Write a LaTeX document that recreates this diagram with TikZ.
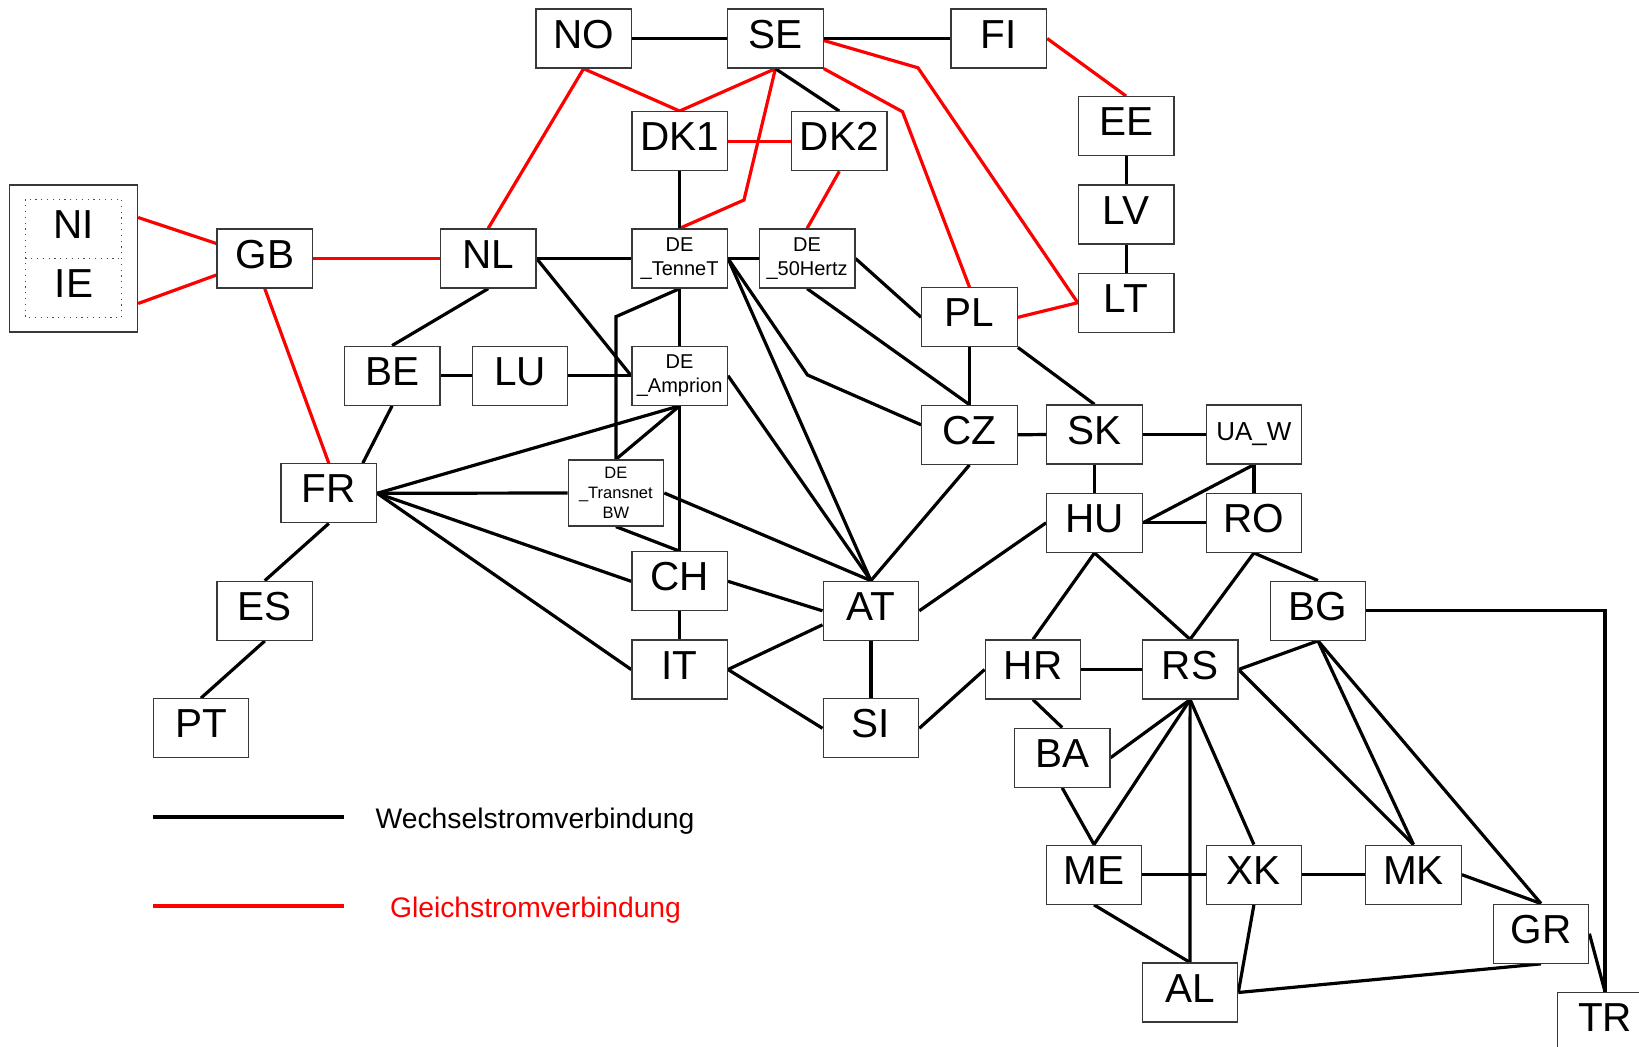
\documentclass[tikz,border=0pt]{standalone}
\usepackage{fontspec}
\setmainfont{Liberation Sans}
\usetikzlibrary{calc}
\pgfdeclarelayer{bgfill}
\pgfdeclarelayer{edges}
\pgfsetlayers{bgfill,edges,main}
\tikzset{
  boxbase/.style={draw=black!78, line width=1.3pt, fill=white, minimum width=95.5pt, minimum height=59pt, inner sep=0pt},
  box/.style={boxbase, font=\fontsize{40.5}{48}\selectfont, text height=29pt, text depth=10pt},
  debox/.style={boxbase, font=\fontsize{20}{24.5}\selectfont, align=center},
  bwbox/.style={boxbase, minimum height=66pt, font=\fontsize{16.5}{20}\selectfont, align=center},
  uabox/.style={boxbase, font=\fontsize{26}{30}\selectfont, text height=18.6pt, text depth=6.4pt},
  bigtext/.style={inner sep=0pt, font=\fontsize{40.5}{48}\selectfont, text height=29pt, text depth=10pt},
  ac/.style={line width=3.2pt, black},
  dc/.style={line width=3.2pt, red},
  legtext/.style={inner sep=0pt, anchor=base, font=\fontsize{28.3}{32}\selectfont}
}
\begin{document}
\begin{tikzpicture}[x=1pt, y=-1pt]
\useasboundingbox (0,0) rectangle (1639,1047);
\begin{pgfonlayer}{bgfill}
\fill[white] (0,0) rectangle (1639,1047);
\end{pgfonlayer}

% ---- NI / IE group
\node[draw=black!78, line width=1.3pt, fill=white, minimum width=128.2pt, minimum height=147pt, inner sep=0pt] (NIIE) at (73.4,258.5) {};
\draw[black!70, line width=1.2pt, dash pattern=on 1.2pt off 4.6pt] (25.4,199.3) rectangle (121.8,317.3);
\draw[black!70, line width=1.2pt, dash pattern=on 1.2pt off 4.6pt] (25.4,258.3) -- (121.8,258.3);
\node[bigtext] (NI) at (74,229.2) {NI};
\node[bigtext] (IE) at (74,287.7) {IE};

% ---- boxes
\node[box] (NO) at (583.6,38.5) {NO};
\node[box] (SE) at (775.4,38.5) {SE};
\node[box] (FI) at (998.8,38.5) {FI};
\node[box] (DK1) at (679.6,141.2) {DK1};
\node[box] (DK2) at (839.3,141.2) {DK2};
\node[box] (EE) at (1126.1,126.2) {EE};
\node[box] (LV) at (1126.1,214.5) {LV};
\node[box] (LT) at (1126.1,302.7) {LT};
\node[box] (GB) at (264.8,258.5) {GB};
\node[box] (NL) at (488.2,258.5) {NL};
\node[debox] (TT) at (679.6,258.5) {DE\\\_TenneT};
\node[debox] (HZ) at (807.1,258.5) {DE\\\_50Hertz};
\node[box] (PL) at (969.5,317.3) {PL};
\node[box] (BE) at (392.1,375.7) {BE};
\node[box] (LU) at (520,375.7) {LU};
\node[debox] (AM) at (679.6,375.7) {DE\\\_Amprion};
\node[box] (CZ) at (969.5,434.8) {CZ};
\node[box] (SK) at (1094.5,434.5) {SK};
\node[uabox] (UA) at (1253.9,434.5) {UA\_W};
\node[box] (FR) at (328.8,493.3) {FR};
\node[bwbox] (BW) at (615.9,493) {DE\\\_Transnet\\BW};
\node[box] (HU) at (1094.5,522.8) {HU};
\node[box] (RO) at (1253.9,522.8) {RO};
\node[box] (CH) at (679.6,581.3) {CH};
\node[box] (AT) at (870.9,610.8) {AT};
\node[box] (ES) at (264.8,610.8) {ES};
\node[box] (BG) at (1318,610.7) {BG};
\node[box] (IT) at (679.6,669.5) {IT};
\node[box] (HR) at (1033,669.5) {HR};
\node[box] (RS) at (1190.1,669.5) {RS};
\node[box] (PT) at (200.9,728.3) {PT};
\node[box] (SI) at (870.9,728.3) {SI};
\node[box] (BA) at (1062.2,757.7) {BA};
\node[box] (ME) at (1094,874.7) {ME};
\node[box] (XK) at (1253.9,874.7) {XK};
\node[box] (MK) at (1413.5,874.7) {MK};
\node[box] (GR) at (1541,933.7) {GR};
\node[box] (AL) at (1189.9,992.5) {AL};
\node[box] (TR) at (1605,1021.8) {TR};

% ---- waypoints
\coordinate (wSE1) at (744,200);
\coordinate (wSE2) at (918,67.8);
\coordinate (wSE3) at (902.5,111.7);
\coordinate (wTT1) at (615.9,316.7);
\coordinate (wTT2) at (807.5,375);

% ---- legend
\coordinate (acA) at (153,816.7);
\coordinate (acB) at (344,816.7);
\coordinate (dcA) at (153,905.7);
\coordinate (dcB) at (344,905.7);
\draw[black, line width=4pt] (acA) -- (acB);
\draw[red, line width=4pt] (dcA) -- (dcB);
\node[legtext] (legac) at (535,828) {Wechselstromverbindung};
\node[legtext, text=red] (legdc) at (535.5,917) {Gleichstromverbindung};

\begin{pgfonlayer}{edges}
% ---- DC links (red)
\draw[dc] ($(NIIE.east)+(0,-41)$) -- ($(GB.west)+(0,-15)$);
\draw[dc] ($(NIIE.east)+(0,45)$) -- ($(GB.west)+(0,16.5)$);
\draw[dc] (GB.east) -- (NL.west);
\draw[dc] (GB.south) -- (FR.north);
\draw[dc] (NL.north) -- (NO.south);
\draw[dc] (NO.south) -- (DK1.north);
\draw[dc] (SE.south) -- (DK1.north);
\draw[dc] (SE.south) -- (wSE1) -- (TT.north);
\draw[dc] (DK1.east) -- (DK2.west);
\draw[dc] (DK2.south) -- (HZ.north);
\draw[dc] ($(SE.east)+(0,2)$) -- (wSE2) -- (LT.west);
\draw[dc] (SE.south east) -- (wSE3) -- (PL.north);
\draw[dc] (PL.east) -- (LT.west);
\draw[dc] (FI.east) -- (EE.north);

% ---- AC links (black)
\draw[ac] (NO.east) -- (SE.west);
\draw[ac] (SE.east) -- (FI.west);
\draw[ac] (SE.south) -- (DK2.north);
\draw[ac] (DK1.south) -- (TT.north);
\draw[ac] (EE.south) -- (LV.north);
\draw[ac] (LV.south) -- (LT.north);
\draw[ac] (NL.east) -- (TT.west);
\draw[ac] (NL.east) -- (AM.west);
\draw[ac] (NL.south) -- (BE.north);
\draw[ac] (TT.east) -- (HZ.west);
\draw[ac] (HZ.east) -- (PL.west);
\draw[ac] (HZ.south) -- (CZ.north);
\draw[ac] (TT.south) -- (AM.north);
\draw[ac] (TT.south) -- (wTT1) -- (BW.north);
\draw[ac] (TT.east) -- (AT.north);
\draw[ac] (TT.east) -- (wTT2) -- ($(CZ.west)+(0,-10)$);
\draw[ac] (BE.east) -- (LU.west);
\draw[ac] (LU.east) -- (AM.west);
\draw[ac] (BE.south) -- ($(FR.north)+(34,0)$);
\draw[ac] (AM.south) -- (BW.north);
\draw[ac] (AM.south) -- (FR.east);
\draw[ac] (AM.south) -- (CH.north);
\draw[ac] (AM.east) -- (AT.north);
\draw[ac] (FR.east) -- (BW.west);
\draw[ac] (FR.east) -- (CH.west);
\draw[ac] (FR.east) -- (IT.west);
\draw[ac] (FR.south) -- (ES.north);
\draw[ac] (ES.south) -- (PT.north);
\draw[ac] (BW.east) -- (AT.north);
\draw[ac] (BW.south) -- (CH.north);
\draw[ac] (CH.east) -- (AT.west);
\draw[ac] (CH.south) -- (IT.north);
\draw[ac] (IT.east) -- ($(AT.west)+(0,14)$);
\draw[ac] (IT.east) -- (SI.west);
\draw[ac] (AT.south) -- (SI.north);
\draw[ac] (SI.east) -- (HR.west);
\draw[ac] (AT.east) -- (HU.west);
\draw[ac] (CZ.south) -- (AT.north);
\draw[ac] (PL.south) -- (CZ.north);
\draw[ac] (CZ.east) -- (SK.west);
\draw[ac] (PL.south east) -- (SK.north);
\draw[ac] (SK.east) -- (UA.west);
\draw[ac] (SK.south) -- (HU.north);
\draw[ac] (UA.south) -- (RO.north);
\draw[ac] (UA.south) -- (HU.east);
\draw[ac] (HU.east) -- (RO.west);
\draw[ac] (HU.south) -- (HR.north);
\draw[ac] (HU.south) -- (RS.north);
\draw[ac] (RO.south) -- (RS.north);
\draw[ac] (RO.south) -- (BG.north);
\draw[ac] (BG.east) -| (TR.north);
\draw[ac] (HR.east) -- (RS.west);
\draw[ac] (BG.south) -- (RS.east);
\draw[ac] (BG.south) -- (MK.north);
\draw[ac] (BG.south) -- (GR.north);
\draw[ac] (RS.east) -- (MK.north);
\draw[ac] (HR.south) -- (BA.north);
\draw[ac] (RS.south) -- (BA.east);
\draw[ac] (RS.south) -- (ME.north);
\draw[ac] (RS.south) -- (AL.north);
\draw[ac] (RS.south) -- (XK.north);
\draw[ac] (BA.south) -- (ME.north);
\draw[ac] (ME.east) -- (XK.west);
\draw[ac] (XK.east) -- (MK.west);
\draw[ac] (MK.east) -- (GR.north);
\draw[ac] (ME.south) -- (AL.north);
\draw[ac] (XK.south) -- (AL.east);
\draw[ac] (AL.east) -- (GR.south);
\draw[ac] (GR.east) -- (TR.north);
\end{pgfonlayer}
\end{tikzpicture}
\end{document}
